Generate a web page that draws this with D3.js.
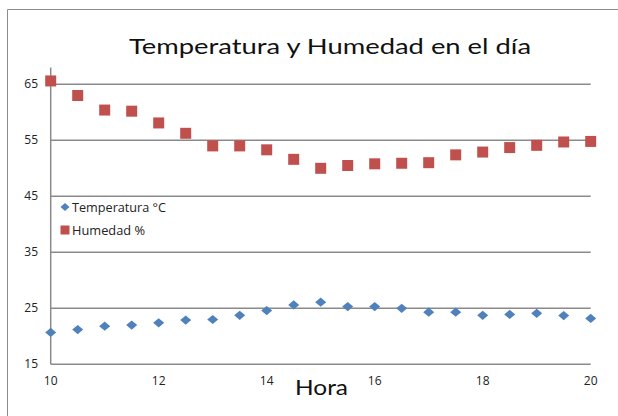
<!DOCTYPE html>
<html>
<head>
<meta charset="utf-8">
<script src="https://cdn.jsdelivr.net/npm/d3@7"></script>
<style>
  body { margin: 0; background: #fff; }
  svg { display: block; }
</style>
</head>
<body>
<svg id="chart" width="618" height="416"></svg>
<script>
// Horas del día y lecturas
var horas = [10, 10.5, 11, 11.5, 12, 12.5, 13, 13.5, 14, 14.5, 15, 15.5, 16, 16.5, 17, 17.5, 18, 18.5, 19, 19.5, 20];
var temperatura = [20.7, 21.2, 21.8, 22.0, 22.4, 22.9, 23.0, 23.75, 24.6, 25.6, 26.1, 25.3, 25.3, 25.0, 24.3, 24.3, 23.75, 23.9, 24.1, 23.7, 23.2];
var humedad = [65.6, 63.0, 60.4, 60.2, 58.1, 56.25, 54.0, 54.0, 53.3, 51.6, 50.0, 50.5, 50.8, 50.9, 51.0, 52.4, 52.9, 53.7, 54.1, 54.7, 54.8];
var yTicks = [15, 25, 35, 45, 55, 65];
var xTicks = [10, 12, 14, 16, 18, 20];
var series = ["Temperatura °C", "Humedad %"];

var svg = d3.select("#chart");
var font = "'Open Sans', 'DejaVu Sans', sans-serif";
var bigFont = "Lato, 'Open Sans', sans-serif";

var x = d3.scaleLinear().domain([10, 20]).range([50.7, 590.7]);
var y = d3.scaleLinear().domain([15, 68]).range([364.3, 67.5]);

// diamond wider than tall, like the spreadsheet marker
function diamondPath(w, h) {
    return "M0," + (-h) + "L" + w + ",0L0," + h + "L" + (-w) + ",0Z";
}

// chart frame (only top and left edges visible)
svg.append("path")
    .attr("d", "M7.5,416 V9.5 H618")
    .style("fill", "none")
    .style("stroke", "#8c8c8c")
    .style("stroke-width", 1);

// title (source picture is stretched sideways)
svg.append("text")
    .attr("x", 129)
    .attr("y", 54)
    .attr("textLength", 402)
    .attr("lengthAdjust", "spacingAndGlyphs")
    .style("font-family", bigFont)
    .style("font-size", "21px")
    .style("fill", "#111")
    .text("Temperatura y Humedad en el día");

// gridlines
svg.append("g")
    .selectAll("line")
    .data(yTicks)
    .enter()
    .append("line")
    .attr("x1", x(10))
    .attr("x2", x(20))
    .attr("y1", function(d) { return y(d); })
    .attr("y2", function(d) { return y(d); })
    .style("stroke", "#8a8a8a")
    .style("stroke-width", 1.5);

// vertical axis line
svg.append("line")
    .attr("x1", x(10)).attr("x2", x(10))
    .attr("y1", y(68)).attr("y2", y(15))
    .style("stroke", "#8a8a8a")
    .style("stroke-width", 1.5);

// y tick labels
svg.append("g")
    .selectAll("text")
    .data(yTicks)
    .enter()
    .append("text")
    .attr("x", 38)
    .attr("y", function(d) { return y(d) + 4; })
    .attr("text-anchor", "end")
    .style("font-family", font)
    .style("font-size", "12px")
    .style("fill", "#222")
    .text(function(d) { return d; });

// x tick labels
svg.append("g")
    .selectAll("text")
    .data(xTicks)
    .enter()
    .append("text")
    .attr("x", function(d) { return x(d); })
    .attr("y", 385)
    .attr("text-anchor", "middle")
    .style("font-family", font)
    .style("font-size", "12px")
    .style("fill", "#222")
    .text(function(d) { return d; });

// axis title
svg.append("text")
    .attr("x", 295)
    .attr("y", 395)
    .attr("textLength", 53)
    .attr("lengthAdjust", "spacingAndGlyphs")
    .style("font-family", bigFont)
    .style("font-size", "22px")
    .style("fill", "#111")
    .text("Hora");

// temperature markers
svg.append("g")
    .selectAll("path")
    .data(horas)
    .enter()
    .append("path")
    .attr("d", diamondPath(5.5, 4.6))
    .attr("transform", function(d, i) {
        return "translate(" + x(d) + "," + y(temperatura[i]) + ")";
    })
    .style("fill", "#4f81bd");

// humidity markers
svg.append("g")
    .selectAll("rect")
    .data(horas)
    .enter()
    .append("rect")
    .attr("x", function(d) { return x(d) - 5.5; })
    .attr("y", function(d, i) { return y(humedad[i]) - 5.5; })
    .attr("width", 11)
    .attr("height", 11)
    .style("fill", "#c0504d");

// legend
var legend = svg.append("g").attr("transform", "translate(65,207)");
legend.append("path")
    .attr("d", diamondPath(4.5, 4))
    .style("fill", "#4f81bd");
legend.append("rect")
    .attr("x", -4.5).attr("y", 18.5)
    .attr("width", 9).attr("height", 9)
    .style("fill", "#c0504d");
legend.selectAll("text")
    .data(series)
    .enter()
    .append("text")
    .attr("x", 7)
    .attr("y", function(d, i) { return i * 23 + 4.5; })
    .attr("textLength", function(d, i) { return i == 0 ? 94 : 73; })
    .attr("lengthAdjust", "spacingAndGlyphs")
    .style("font-family", font)
    .style("font-size", "12px")
    .style("fill", "#222")
    .text(function(d) { return d; });
</script>
</body>
</html>
